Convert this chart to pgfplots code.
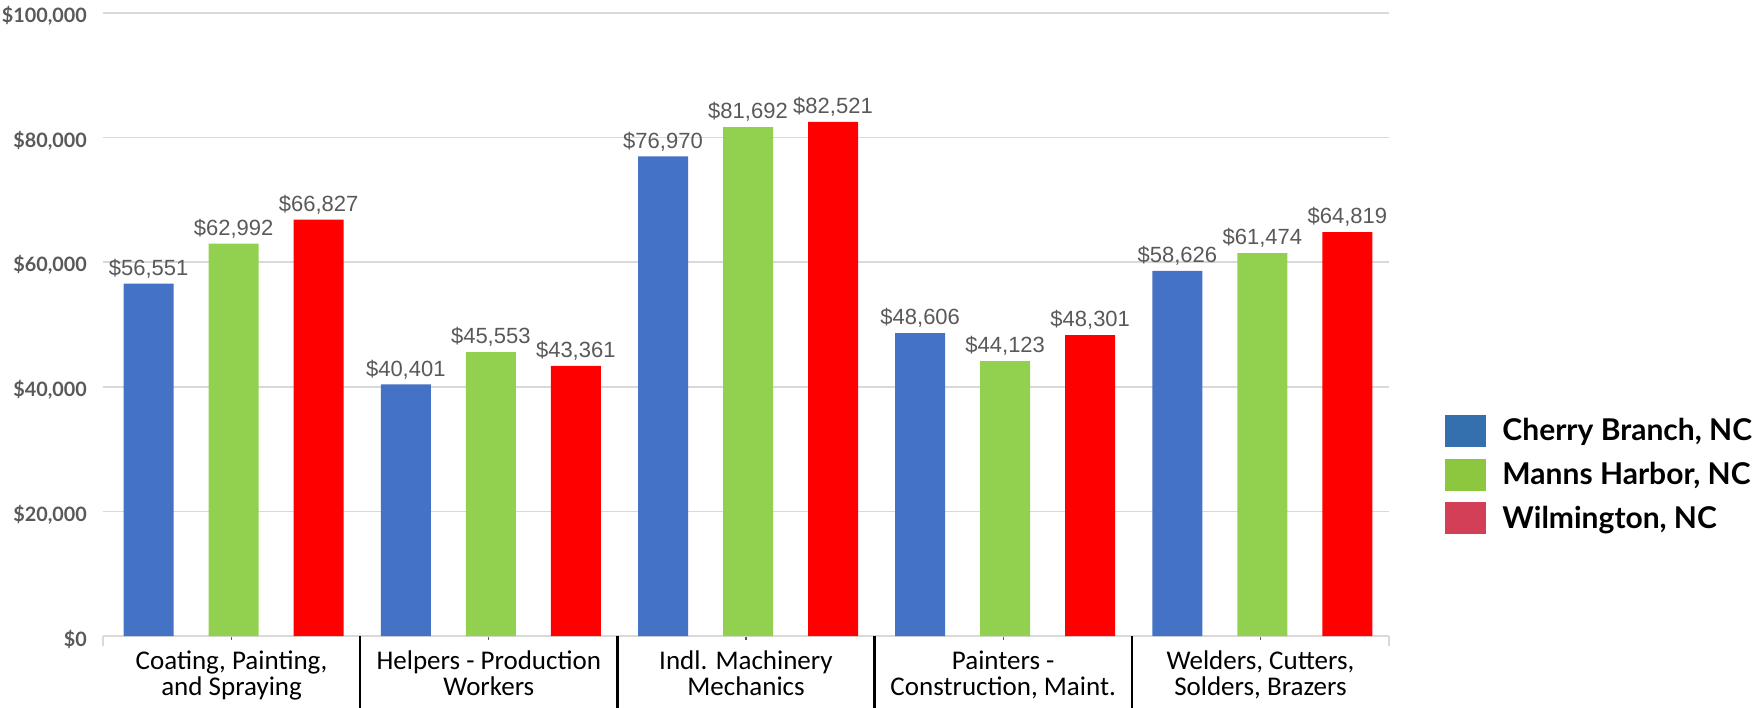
\documentclass[border=0pt]{standalone}
\usepackage{pgfplots}
\pgfplotsset{compat=1.18}
\usepackage{fontspec}
\setmainfont{Carlito}
\newfontfamily\lab{Liberation Sans}
\newfontfamily\lato{Lato}
\definecolor{barblue}{HTML}{4472C4}
\definecolor{bargreen}{HTML}{92D050}
\definecolor{barred}{HTML}{FF0000}
\definecolor{legblue}{HTML}{3470AE}
\definecolor{leggreen}{HTML}{8DC63F}
\definecolor{legred}{HTML}{D33F57}
\definecolor{labgray}{HTML}{595959}
\definecolor{gridgray}{HTML}{D9D9D9}
\begin{document}
\begin{tikzpicture}
\begin{axis}[
  scale only axis, width=643pt, height=311.5pt,
  xmin=-0.5, xmax=4.5, ymin=0, ymax=100000,
  ybar, bar width=25pt,
  axis x line*=bottom, axis y line*=left,
  y axis line style={draw=none},
  x axis line style={draw=gridgray, line width=0.8pt},
  ytick={0,20000,40000,60000,80000,100000},
  yticklabels={{\$0},{\$20,000},{\$40,000},{\$60,000},{\$80,000},{\$100,000}},
  ytick style={draw=none},
  yticklabel style={font=\lato\bfseries\fontsize{9.9}{11}\selectfont, text=labgray, xshift=-2.5pt, yshift=-1.5pt},
  ymajorgrids, major grid style={draw=gridgray, line width=0.8pt},
  xtick={0,1,2,3,4},
  xticklabels={{Coating, Painting,\\and Spraying},{Helpers - Production\\Workers},{Indl. Machinery\\Mechanics},{Painters -\\Construction, Maint.},{Welders, Cutters,\\Solders, Brazers}},
  xticklabel style={align=center, font=\fontsize{13.5}{12.75}\selectfont, text=black, yshift=-2pt},
  tick align=outside,
  xtick style={draw=labgray, line width=0.6pt},
  major tick length=2pt,
  minor xtick={-0.5,4.5},
  minor tick length=5pt,
  minor x tick style={draw=gridgray, line width=0.8pt},
  extra x ticks={0.5,1.5,2.5,3.5},
  extra x tick labels={},
  extra x tick style={major tick length=36pt, tick align=outside, xtick style={draw=black, line width=1.2pt}},
  nodes near coords={\$\pgfmathprintnumber[fixed,precision=0,1000 sep={,},assume math mode=true]{\pgfplotspointmeta}},
  every node near coord/.append style={font=\lab\fontsize{11}{13}\selectfont, text=labgray, inner sep=2.5pt},
  clip=false,
  legend image code/.code={\fill (0pt,-8pt) rectangle (20.5pt,8pt);},
  legend style={draw=none, fill=none, at={(1.0436,0.2592)}, anchor=west, inner sep=0pt,
    font=\lato\bfseries\fontsize{15}{18}\selectfont, row sep=5.3pt,
    /tikz/every odd column/.append style={column sep=6pt}},
  legend cell align=left,
]
\addplot[fill=barblue, draw=none, bar shift=-41.5pt, forget plot] coordinates {(0,56551) (1,40401) (2,76970) (3,48606) (4,58626)};
\addplot[fill=bargreen, draw=none, bar shift=1pt, forget plot] coordinates {(0,62992) (1,45553) (2,81692) (3,44123) (4,61474)};
\addplot[fill=barred, draw=none, bar shift=43.5pt, forget plot] coordinates {(0,66827) (1,43361) (2,82521) (3,48301) (4,64819)};
\addlegendimage{fill=legblue, draw=none}
\addlegendentry{Cherry Branch, NC}
\addlegendimage{fill=leggreen, draw=none}
\addlegendentry{Manns Harbor, NC}
\addlegendimage{fill=legred, draw=none}
\addlegendentry{Wilmington, NC}
\end{axis}
\pgfresetboundingbox
\path (-51.5pt,-35.5pt) rectangle (828pt,318pt);
\end{tikzpicture}
\end{document}
